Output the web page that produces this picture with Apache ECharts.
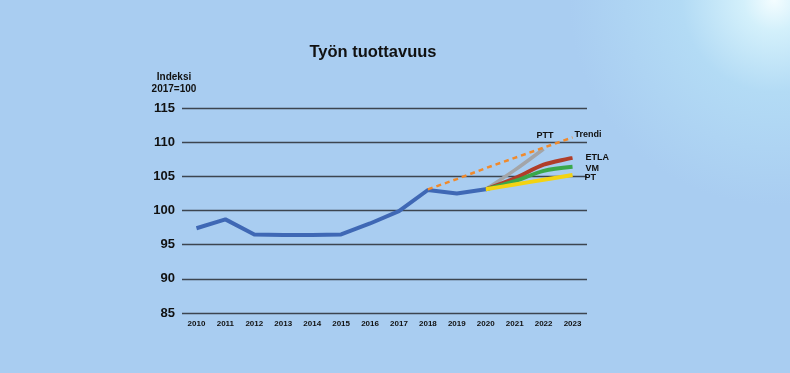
<!DOCTYPE html>
<html>
<head>
<meta charset="utf-8">
<script src="https://cdn.jsdelivr.net/npm/echarts@6/dist/echarts.min.js"></script>
<style>
html,body{margin:0;padding:0;width:790px;height:373px;overflow:hidden;}
#c{width:790px;height:373px;}
</style>
</head>
<body>
<div id="c"></div>
<script>
var years = ['2010','2011','2012','2013','2014','2015','2016','2017','2018','2019','2020','2021','2022','2023'];
var yTicks = [85, 90, 95, 100, 105, 110, 115];
var toteutunut = [97.4, 98.7, 96.5, 96.4, 96.4, 96.5, 98.1, 99.9, 103.0, 102.5, 103.1, null, null, null];
var ptt   = [null, null, null, null, null, null, null, null, null, null, 103.1, 105.9, 109.0, null];
var etla  = [null, null, null, null, null, null, null, null, null, null, 103.1, 104.7, 106.7, 107.7];
var vm    = [null, null, null, null, null, null, null, null, null, null, 103.1, 104.3, 105.8, 106.4];
var pt    = [null, null, null, null, null, null, null, null, null, null, 103.1, 103.8, 104.5, 105.2];
var trendi = [null, null, null, null, null, null, null, null, 103.1, 104.6, 106.2, 107.7, 109.2, 110.7];

var FONT = 'Liberation Sans, Arial, sans-serif';

function endLbl(name, offset) {
  return {show: true, formatter: name, offset: offset, distance: 3,
    color: '#111', fontSize: 9, fontWeight: 'bold', fontFamily: FONT};
}

var chart = echarts.init(document.getElementById('c'));
chart.setOption({
  animation: false,
  backgroundColor: {
    type: 'radial', x: 0.98, y: 0.0, r: 0.55,
    colorStops: [
      {offset: 0, color: '#f4fdff'},
      {offset: 0.15, color: '#d3f0fb'},
      {offset: 0.45, color: '#b3dbf5'},
      {offset: 1, color: '#a9cdf1'}
    ]
  },
  title: [
    {
      text: 'Työn tuottavuus', left: 368, top: 39, textAlign: 'center',
      textStyle: {fontSize: 16.5, fontWeight: 'bold', color: '#111', fontFamily: FONT}
    },
    {
      text: 'Indeksi\n2017=100', left: 169, top: 66, textAlign: 'center',
      textStyle: {fontSize: 10, fontWeight: 'bold', color: '#111', lineHeight: 12, fontFamily: FONT}
    }
  ],
  grid: {left: 182, top: 108, width: 405, height: 205},
  xAxis: {
    type: 'category', data: years, boundaryGap: true,
    axisLine: {show: false}, axisTick: {show: false},
    axisLabel: {fontSize: 8, fontWeight: 'bold', color: '#111', margin: 7, fontFamily: FONT}
  },
  yAxis: {
    type: 'value', min: 85, max: 115, interval: 5,
    axisLine: {show: false}, axisTick: {show: false},
    axisLabel: {fontSize: 13, fontWeight: 'bold', color: '#111', margin: 7, fontFamily: FONT,
      formatter: function (v) { return yTicks.indexOf(v) >= 0 ? String(v) : ''; }},
    splitLine: {lineStyle: {color: '#3c4550', width: 1.3}}
  },
  series: [
    {name: 'Toteutunut', type: 'line', data: toteutunut, smooth: false, symbol: 'none',
      lineStyle: {color: '#3f68b5', width: 4, join: 'round'}, z: 5},
    {name: 'PTT', type: 'line', data: ptt, smooth: 0.3, symbol: 'none',
      lineStyle: {color: '#a3a5a8', width: 3.5}, z: 3, endLabel: endLbl('PTT', [-10, -13])},
    {name: 'ETLA', type: 'line', data: etla, smooth: 0.3, symbol: 'none',
      lineStyle: {color: '#b03e2a', width: 4}, z: 4, endLabel: endLbl('ETLA', [10, 0])},
    {name: 'VM', type: 'line', data: vm, smooth: 0.3, symbol: 'none',
      lineStyle: {color: '#3aa84a', width: 4}, z: 4, endLabel: endLbl('VM', [10, 2])},
    {name: 'PT', type: 'line', data: pt, smooth: 0.3, symbol: 'none',
      lineStyle: {color: '#f3d313', width: 4}, z: 4, endLabel: endLbl('PT', [9, 3])},
    {name: 'Trendi', type: 'line', data: trendi, symbol: 'none',
      lineStyle: {color: '#f08a2c', width: 2.5, type: [5, 4]}, z: 6, endLabel: endLbl('Trendi', [-1, -3])}
  ]
});
</script>
</body>
</html>
